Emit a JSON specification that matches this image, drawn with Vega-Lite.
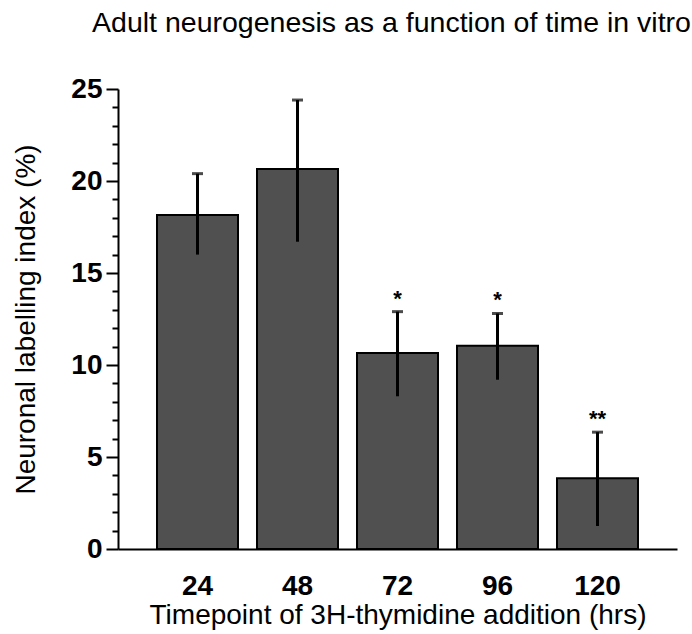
{
  "$schema": "https://vega.github.io/schema/vega-lite/v6.json",
  "width": 559,
  "height": 460,
  "autosize": {"type": "none"},
  "padding": {"left": 118, "top": 89, "right": 15, "bottom": 85},
  "background": "white",
  "config": {
    "view": {"stroke": null},
    "font": "Liberation Sans",
    "axisY": {
      "labelOverlap": false,
      "labelFlush": false,
      "grid": false,
      "tickWidth": 2,
      "tickColor": "black",
      "domainColor": "black",
      "domainWidth": 2,
      "labelFont": "Liberation Sans",
      "labelFontSize": 28,
      "labelFontWeight": "bold",
      "labelColor": "black",
      "labelPadding": 4,
      "titleFont": "Liberation Sans",
      "titleFontSize": 28,
      "titleFontWeight": "normal",
      "titleColor": "black",
      "titlePadding": 30
    }
  },
  "title": {
    "text": "Adult neurogenesis as a function of time in vitro",
    "fontSize": 28.5,
    "fontWeight": "normal",
    "font": "Liberation Sans",
    "color": "black",
    "anchor": "middle",
    "frame": "group",
    "dx": -6,
    "offset": 38
  },
  "data": {
    "values": [
      {"time": 24, "mean": 18.15, "lo": 16.0, "hi": 20.4, "sig": ""},
      {"time": 48, "mean": 20.65, "lo": 16.7, "hi": 24.4, "sig": ""},
      {"time": 72, "mean": 10.65, "lo": 8.3, "hi": 12.9, "sig": "*"},
      {"time": 96, "mean": 11.05, "lo": 9.2, "hi": 12.8, "sig": "*"},
      {"time": 120, "mean": 3.85, "lo": 1.25, "hi": 6.35, "sig": "**"}
    ]
  },
  "encoding": {
    "x": {
      "field": "time",
      "type": "ordinal",
      "scale": {"paddingInner": 0.19, "paddingOuter": 0.39},
      "axis": {
        "title": "Timepoint of 3H-thymidine addition (hrs)",
        "labelAngle": 0,
        "ticks": false,
        "domainColor": "black",
        "domainWidth": 2,
        "labelFont": "Liberation Sans",
        "labelFontSize": 28,
        "labelFontWeight": "bold",
        "labelColor": "black",
        "labelPadding": 23,
        "titleFont": "Liberation Sans",
        "titleFontSize": 28,
        "titleFontWeight": "normal",
        "titleColor": "black",
        "titlePadding": 1
      }
    }
  },
  "layer": [
    {
      "mark": {"type": "bar", "fill": "#505050", "stroke": "black", "strokeWidth": 2},
      "encoding": {
        "y": {
          "field": "mean",
          "type": "quantitative",
          "scale": {"domain": [0, 25], "nice": false},
          "axis": {
            "title": "Neuronal labelling index (%)",
            "values": [0,1,2,3,4,5,6,7,8,9,10,11,12,13,14,15,16,17,18,19,20,21,22,23,24,25],
            "labelExpr": "datum.value % 5 === 0 ? datum.label : ''",
            "tickSize": {"condition": {"test": "datum.value % 5 === 0", "value": 12}, "value": 6}
          }
        }
      }
    },
    {
      "mark": {"type": "rule", "strokeWidth": 3, "color": "black"},
      "encoding": {
        "y": {
          "field": "lo",
          "type": "quantitative",
          "scale": {"domain": [0, 25], "nice": false},
          "axis": {
            "title": "Neuronal labelling index (%)",
            "values": [0,1,2,3,4,5,6,7,8,9,10,11,12,13,14,15,16,17,18,19,20,21,22,23,24,25],
            "labelExpr": "datum.value % 5 === 0 ? datum.label : ''",
            "tickSize": {"condition": {"test": "datum.value % 5 === 0", "value": 12}, "value": 6}
          }
        },
        "y2": {"field": "hi"}
      }
    },
    {
      "mark": {"type": "tick", "thickness": 3, "size": 11, "color": "black"},
      "encoding": {
        "y": {
          "field": "hi",
          "type": "quantitative",
          "scale": {"domain": [0, 25], "nice": false},
          "axis": {
            "title": "Neuronal labelling index (%)",
            "values": [0,1,2,3,4,5,6,7,8,9,10,11,12,13,14,15,16,17,18,19,20,21,22,23,24,25],
            "labelExpr": "datum.value % 5 === 0 ? datum.label : ''",
            "tickSize": {"condition": {"test": "datum.value % 5 === 0", "value": 12}, "value": 6}
          }
        }
      }
    },
    {
      "mark": {"type": "text", "fontSize": 22, "fontWeight": "bold", "baseline": "alphabetic", "dy": -6, "color": "black", "font": "Liberation Sans"},
      "encoding": {
        "y": {
          "field": "hi",
          "type": "quantitative",
          "scale": {"domain": [0, 25], "nice": false},
          "axis": {
            "title": "Neuronal labelling index (%)",
            "values": [0,1,2,3,4,5,6,7,8,9,10,11,12,13,14,15,16,17,18,19,20,21,22,23,24,25],
            "labelExpr": "datum.value % 5 === 0 ? datum.label : ''",
            "tickSize": {"condition": {"test": "datum.value % 5 === 0", "value": 12}, "value": 6}
          }
        },
        "text": {"field": "sig"}
      }
    }
  ]
}
